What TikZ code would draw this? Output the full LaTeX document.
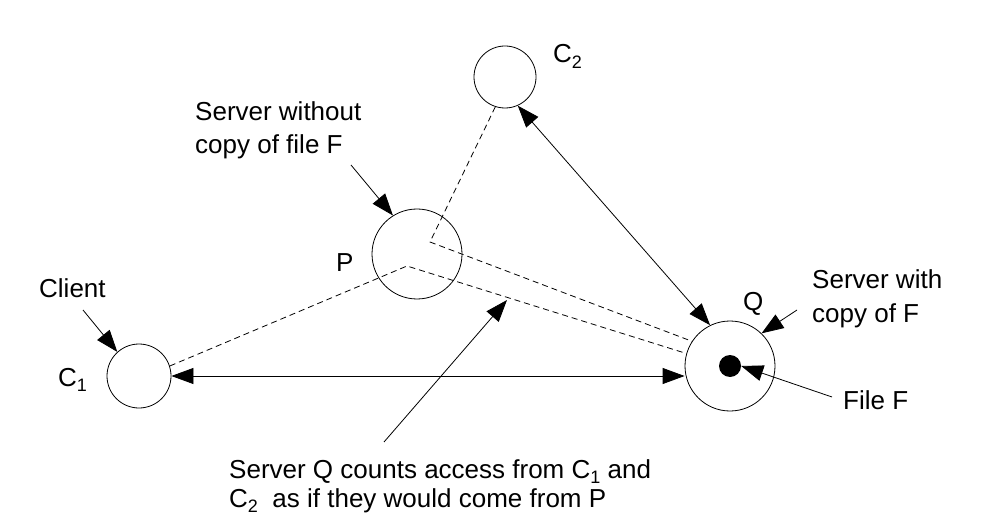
\documentclass[tikz,border=0pt]{standalone}
\usepackage{fontspec}
\setmainfont{Liberation Sans}
\usetikzlibrary{arrows.meta}
\newcommand\sbs[1]{\raisebox{-0.2em}{\fontsize{18}{18}\selectfont #1}}
\begin{document}
\begin{tikzpicture}[x=1pt,y=-1pt,
  circ/.style={circle,draw,line width=0.8pt,inner sep=0pt,minimum size=#1},
  lbl/.style={anchor=base west,inner sep=0pt,align=left,font=\fontsize{26}{33}\selectfont},
  arr/.style={line width=0.8pt,-{Triangle[length=22pt,width=16pt]}},
  darr/.style={line width=0.8pt,{Triangle[length=22pt,width=16pt]}-{Triangle[length=22pt,width=16pt]}},
  dsh/.style={line width=0.8pt,dash pattern=on 6pt off 4pt}]
\useasboundingbox (0,0) rectangle (984,526);
% circles
\node[circ=62pt] (C2) at (505,77) {};
\node[circ=90pt] (P) at (417,254) {};
\node[circ=64pt] (C1) at (139,376) {};
\node[circ=90pt] (Q) at (730,366) {};
\node[circle,fill=black,inner sep=0pt,minimum size=22pt] (dot) at (730,366) {};
% labels (anchor = baseline of the last line)
\node[lbl] (lC2) at (553,63) {C\sbs{2}};
\node[lbl] (lP) at (336,272) {P};
\node[lbl] (lC1) at (58,386) {C\sbs{1}};
\node[lbl] (lQ) at (743,310) {Q};
\node[lbl] (tSwo) at (195,154) {Server without\\copy of file F};
\node[lbl] (tCl) at (39,298) {Client};
\node[lbl] (tSw) at (812,322) {Server with\\copy of F};
\node[lbl] (tF) at (843,409) {File F};
\node[lbl,font=\fontsize{26}{29}\selectfont] (tB) at (229,507) {Server Q counts access from C\sbs{1} and\\C\sbs{2} \ as if they would come from P};
% free ends
\coordinate (b1) at (430,242);
\coordinate (b2) at (407,266);
\coordinate (sClient) at (83,310);
\coordinate (sSwo) at (351,165);
\coordinate (sSw) at (797,310);
\coordinate (sF) at (832,397);
\coordinate (sB) at (384,442);
\coordinate (eB) at (507,300);
% dashed paths
\draw[dsh] (C2.-108) -- (b1) -- (Q.147);
\draw[dsh] (C1.18) -- (b2) -- (Q.164);
% solid connectors
\draw[darr] (C1.east) -- (C1.east -| Q.west);
\draw[darr] (Q.116) -- (C2.-66);
\draw[arr] (sClient) -- (C1.132);
\draw[arr] (sSwo) -- (P.122);
\draw[arr] (sSw) -- (Q.46);
\draw[arr] (sF) -- (dot.east);
\draw[arr] (sB) -- (eB);
\end{tikzpicture}
\end{document}
